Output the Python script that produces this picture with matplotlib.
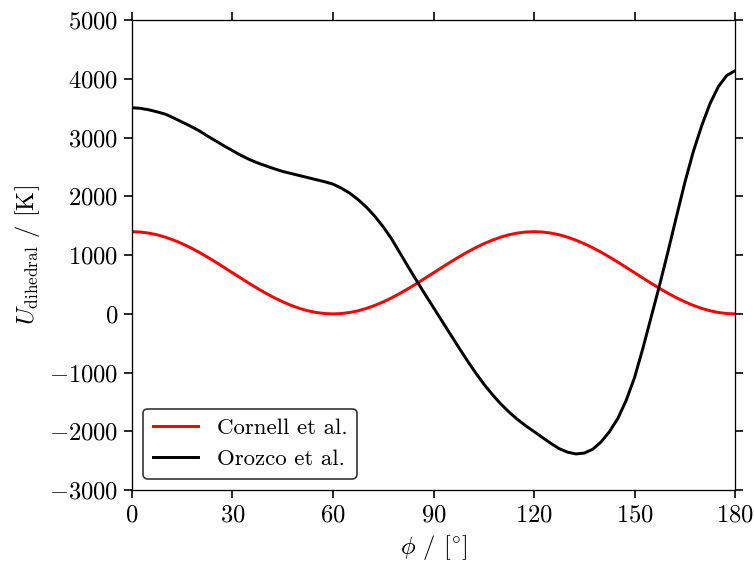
import numpy as np
import matplotlib
matplotlib.use('Agg')
import matplotlib.pyplot as plt

# dihedral angle grid (deg) and energies
phi = np.arange(0, 180.1, 2.5)

cornell = [1400, 1394, 1376, 1347, 1306, 1255, 1195, 1126, 1050, 968, 881,
           791, 700, 609, 519, 432, 350, 274, 205, 145, 94, 53, 24, 6, 0,
           6, 24, 53, 94, 145, 205, 274, 350, 432, 519, 609, 700, 791, 881,
           968, 1050, 1126, 1195, 1255, 1306, 1347, 1376, 1394, 1400,
           1394, 1376, 1347, 1306, 1255, 1195, 1126, 1050, 968, 881, 791,
           700, 609, 519, 432, 350, 274, 205, 145, 94, 53, 24, 6, 0]

orozco = [3510, 3500, 3475, 3440, 3400, 3335, 3265, 3195, 3120, 3030, 2945,
          2860, 2780, 2700, 2630, 2570, 2520, 2470, 2425, 2390, 2355, 2320,
          2285, 2250, 2210, 2140, 2055, 1945, 1815, 1660, 1480, 1275, 1035,
          795, 560, 330, 105, -120, -345, -570, -790, -1000, -1195, -1370,
          -1530, -1670, -1795, -1905, -2005, -2105, -2205, -2295, -2355,
          -2385, -2370, -2305, -2180, -2005, -1780, -1470, -1080, -580,
          -40, 500, 1070, 1660, 2240, 2760, 3200, 3580, 3870, 4060, 4140]

xticks = [0, 30, 60, 90, 120, 150, 180]
yticks = [-3000, -2000, -1000, 0, 1000, 2000, 3000, 4000, 5000]

plt.rcParams['font.family'] = 'serif'
plt.rcParams['font.serif'] = ['cmr10']
plt.rcParams['mathtext.fontset'] = 'cm'
plt.rcParams['axes.formatter.use_mathtext'] = True
plt.rcParams['font.size'] = 15

fig = plt.figure(figsize=(754 / 118, 562 / 118), dpi=118)
ax = fig.add_axes([0.175, 0.128, 0.8, 0.836])

ax.plot(phi, cornell, color='r', lw=1.8, label='Cornell et al.')
ax.plot(phi, orozco, color='k', lw=1.8, label='Orozco et al.')

ax.set_xlim(0, 180)
ax.set_ylim(-3000, 5000)
ax.set_xticks(xticks)
ax.set_yticks(yticks)
ax.tick_params(direction='out', top=True, right=True, length=5, width=1)
ax.set_xlabel(r'$\phi$ / [$^{\circ}$]')
ax.set_ylabel(r'$U_{\mathrm{dihedral}}$ / [K]')
ax.legend(loc='lower left', edgecolor='0.2', framealpha=1, fontsize=14)

fig.savefig('out.png', dpi=118)
